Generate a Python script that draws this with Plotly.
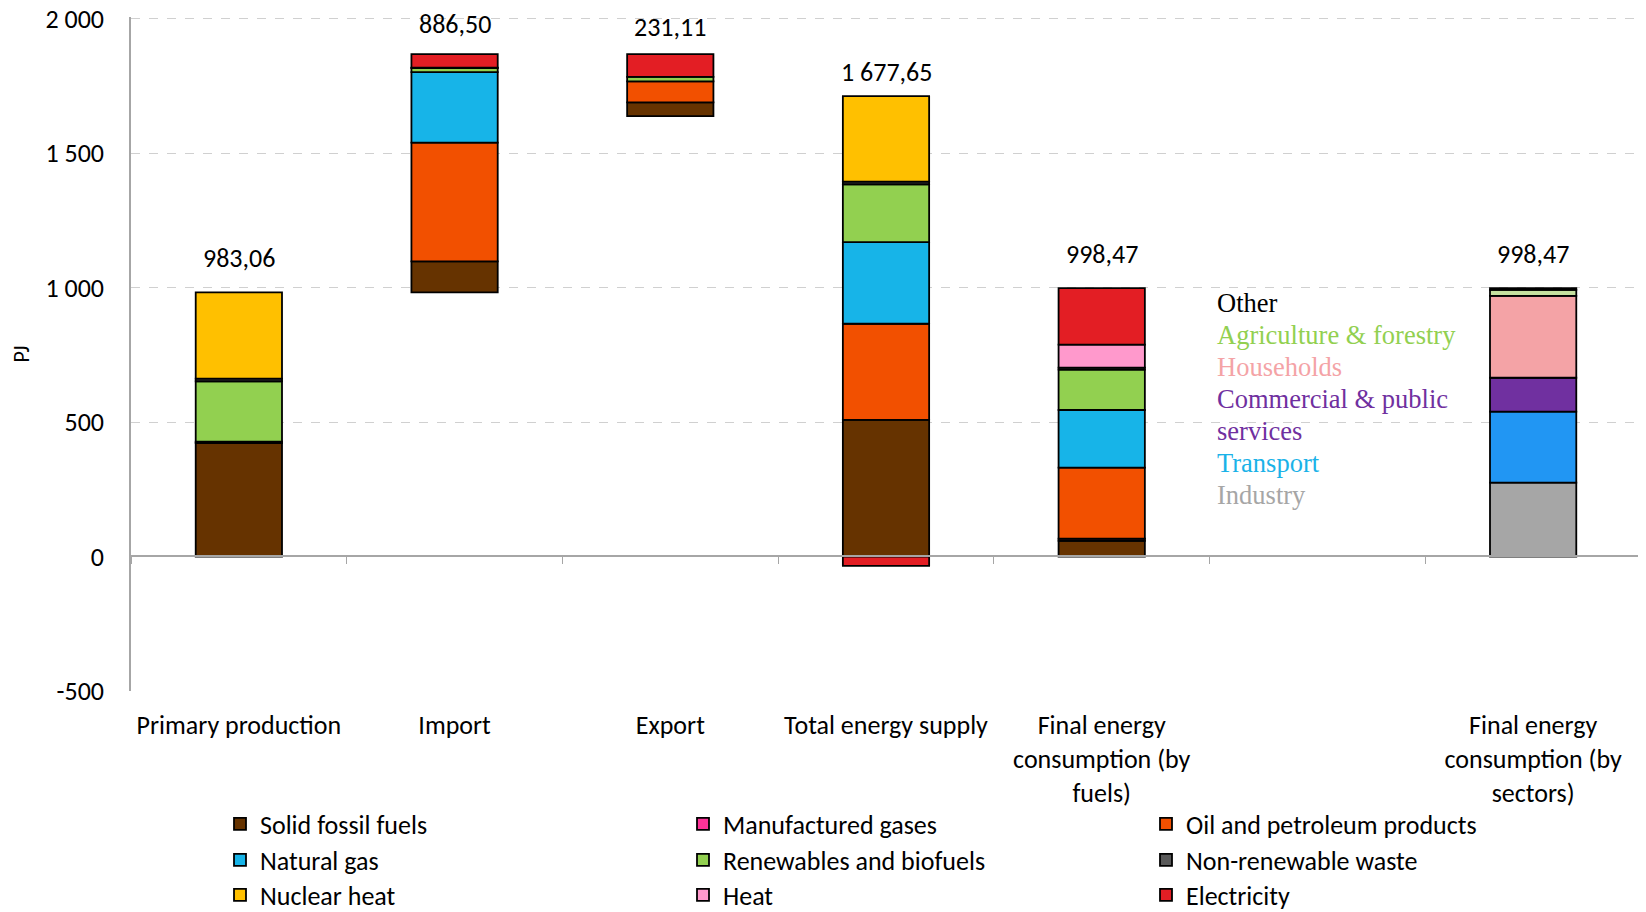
import plotly.graph_objects as go

categories = ["Primary production", "Import", "Export", "Total energy supply",
              "Final energy<br>consumption (by<br>fuels)", "",
              "Final energy<br>consumption (by<br>sectors)"]

y_tickvals = [-500, 0, 500, 1000, 1500, 2000]
y_ticktext = ["-500", "0", "500", "1 000", "1 500", "2 000"]

# fuel series (PJ) for the first five categories
fuel_names = ["Solid fossil fuels", "Manufactured gases", "Oil and petroleum products",
              "Natural gas", "Renewables and biofuels", "Non-renewable waste",
              "Nuclear heat", "Heat", "Electricity"]
solid = [422, 115, 51.11, 508, 58]
manuf = [0, 0, 0, 0, 8]
oil = [5, 442, 78, 358, 265]
gas = [0, 262, 0, 304, 214]
renew = [225, 15, 17, 215, 150]
waste = [10, 2, 0, 10, 8]
nuclear = [321.06, 0, 0, 317.65, 0]
heat = [0, 0, 0, 0, 85]
elec = [0, 50.5, 85, -35, 210.47]
fuel_colors = ["#663300", "#ff3399", "#f25000", "#17b4e8", "#92d050", "#595959",
               "#ffc000", "#ff99cc", "#e31e24"]

# sector series (PJ) for the last category
sector_names = ["Industry", "Transport", "Commercial & public<br>services",
                "Households", "Agriculture & forestry", "Other"]
sector_values = [275, 264, 126, 305, 22, 6.47]
sector_colors = ["#a6a6a6", "#2196f3", "#7030a0", "#f4a3a6", "#c5e09f", "#000000"]
sector_text_colors = ["#a6a6a6", "#1ab2e8", "#7030a0", "#f4a3a6", "#92d050", "#000000"]

fuel_series = [solid, manuf, oil, gas, renew, waste, nuclear, heat, elec]
n = len(categories)
xs = list(range(n))


def fmt(v):
    s = f"{v:,.2f}"
    return s.replace(",", " ").replace(".", ",")


def series_sum(i):
    return sum(s[i] for s in fuel_series)


primary_total = series_sum(0)
import_total = series_sum(1)
export_total = series_sum(2)
tes_total = series_sum(3)
tes_positive = sum(s[3] for s in fuel_series if s[3] > 0)
final_total = series_sum(4)
sector_total = sum(sector_values)

offset = [0, primary_total, primary_total + import_total - export_total, 0, 0, None, 0]

FONT = "Carlito, Calibri, Lato, sans-serif"
FS = 26
W, H = 1638, 904  # page body has an 8px margin
Y_MIN, Y_MAX = -500.5, 2007.4
fig = go.Figure()

fig.add_trace(go.Bar(x=xs, y=offset, marker=dict(color="rgba(0,0,0,0)", line=dict(width=0)),
                     showlegend=False, hoverinfo="skip"))

legend_ids = ["legend", "legend", "legend", "legend2", "legend2", "legend2",
              "legend3", "legend3", "legend3"]
for name, vals, col, lg in zip(fuel_names, fuel_series, fuel_colors, legend_ids):
    yv = [v if v != 0 else None for v in vals] + [None, None]
    fig.add_trace(go.Bar(x=xs, y=yv, name=name, legend=lg,
                         marker=dict(color=col, line=dict(color="black", width=1.8))))

for name, v, col in zip(sector_names, sector_values, sector_colors):
    yv = [None] * (n - 1) + [v]
    fig.add_trace(go.Bar(x=xs, y=yv, name=name, showlegend=False,
                         marker=dict(color=col, line=dict(color="black", width=1.8))))

# total labels
tops = [primary_total, primary_total + import_total, primary_total + import_total,
        tes_positive, final_total, sector_total]
label_vals = [primary_total, import_total, export_total, tes_total, final_total, sector_total]
label_x = [0, 1, 2, 3, 4, 6]
label_shift = [34, 30, 27, 24, 34, 34]
for xv, top, lv, sh in zip(label_x, tops, label_vals, label_shift):
    fig.add_annotation(x=xv, y=top, text=fmt(lv), showarrow=False, yanchor="middle",
                       yshift=sh, font=dict(family=FONT, size=FS, color="black"))

# sector labels (one line each, top to bottom)
line_texts = []
for name, c in reversed(list(zip(sector_names, sector_text_colors))):
    for p in name.split("<br>"):
        line_texts.append((p, c))
line_step = 119
for k, (t, c) in enumerate(line_texts):
    fig.add_annotation(x=4.527, y=942 - k * line_step, xanchor="left", yanchor="middle",
                       text=t, showarrow=False,
                       font=dict(family="Liberation Serif, Times New Roman, serif",
                                 size=26.5, color=c))

legend_common = dict(orientation="h", xref="container", yref="container",
                     xanchor="left", yanchor="middle", entrywidth=418,
                     entrywidthmode="pixels", font=dict(size=FS), itemwidth=30,
                     traceorder="normal", bgcolor="rgba(0,0,0,0)")
lx = 212 / W
fig.update_layout(
    width=W, height=H,
    barmode="relative", bargap=0.6,
    plot_bgcolor="white", paper_bgcolor="white",
    margin=dict(l=123, r=5, t=9, b=221, autoexpand=False),
    font=dict(family=FONT, size=FS, color="black"),
    xaxis=dict(range=[-0.5, n - 0.5], tickvals=xs, ticktext=categories,
               showline=False, showgrid=False, zeroline=False, ticks="",
               tickfont=dict(size=FS), fixedrange=True, automargin=False,
               ticklabelstandoff=16, ticklabeloverflow="allow"),
    xaxis2=dict(overlaying="x", matches="x", anchor="free",
                position=-Y_MIN / (Y_MAX - Y_MIN),
                tickvals=[i - 0.5 for i in range(n + 1)], ticks="outside", ticklen=7,
                tickcolor="#a6a6a6", showline=True, linecolor="#a6a6a6", linewidth=1.5,
                showticklabels=False, showgrid=False, zeroline=False, automargin=False),
    yaxis=dict(range=[Y_MIN, Y_MAX], tickvals=y_tickvals, ticktext=y_ticktext,
               showgrid=True, gridcolor="#d0d0d0", griddash="dash", gridwidth=1.2,
               zeroline=False, showline=True, linecolor="#a6a6a6", linewidth=1.5,
               title=dict(text="PJ", font=dict(size=22), standoff=10),
               tickfont=dict(size=FS), ticks="", automargin=False,
               ticklabelstandoff=20, ticklabeloverflow="allow"),
    legend=dict(x=lx, y=1 - 816 / H, **legend_common),
    legend2=dict(x=lx, y=1 - 852 / H, **legend_common),
    legend3=dict(x=lx, y=1 - 887 / H, **legend_common),
)
fig.add_trace(go.Scatter(x=[None], y=[None], xaxis="x2", showlegend=False))

fig.write_html("out.html")
